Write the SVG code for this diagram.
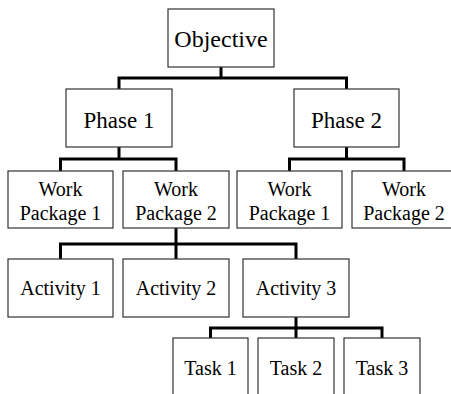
<svg xmlns="http://www.w3.org/2000/svg" width="451" height="394" viewBox="0 0 451 394">
  <rect width="451" height="394" fill="#fff"/>

  <!-- elbow connectors between levels -->
  <g id="connectors" fill="none" stroke="#000" stroke-width="3" stroke-linejoin="miter">
    <path d="M221 67 V78 M119 89 V78 H346.5 V89"/>
    <path d="M119 147 V159 M60.5 171 V159 H176 V171"/>
    <path d="M346.5 147 V159 M289.5 171 V159 H404 V171"/>
    <path d="M176 228 V259 M60.5 259 V244 H296 V259"/>
    <path d="M296 317 V338 M210.5 338 V328 H382 V338"/>
  </g>

  <g id="objective">
    <rect x="168" y="9" width="106" height="58" fill="#fff" stroke="#333" stroke-width="1.2"/>
    <text x="221" y="47" font-size="24" font-family="Times New Roman, Liberation Serif, serif" text-anchor="middle">Objective</text>
  </g>
  <g id="phase1">
    <rect x="66" y="89" width="106" height="58" fill="#fff" stroke="#333" stroke-width="1.2"/>
    <text x="119" y="128" font-size="23" font-family="Times New Roman, Liberation Serif, serif" text-anchor="middle">Phase 1</text>
  </g>
  <g id="phase2">
    <rect x="294" y="89" width="105" height="58" fill="#fff" stroke="#333" stroke-width="1.2"/>
    <text x="346.5" y="128" font-size="23" font-family="Times New Roman, Liberation Serif, serif" text-anchor="middle">Phase 2</text>
  </g>
  <g id="p1-wp1">
    <rect x="8" y="171" width="105" height="57" fill="#fff" stroke="#333" stroke-width="1.2"/>
    <text x="60.5" y="196" font-size="20" font-family="Times New Roman, Liberation Serif, serif" text-anchor="middle">Work</text>
    <text x="60.5" y="220" font-size="20" font-family="Times New Roman, Liberation Serif, serif" text-anchor="middle">Package 1</text>
  </g>
  <g id="p1-wp2">
    <rect x="123" y="171" width="106" height="57" fill="#fff" stroke="#333" stroke-width="1.2"/>
    <text x="176" y="196" font-size="20" font-family="Times New Roman, Liberation Serif, serif" text-anchor="middle">Work</text>
    <text x="176" y="220" font-size="20" font-family="Times New Roman, Liberation Serif, serif" text-anchor="middle">Package 2</text>
  </g>
  <g id="p2-wp1">
    <rect x="237" y="171" width="105" height="57" fill="#fff" stroke="#333" stroke-width="1.2"/>
    <text x="289.5" y="196" font-size="20" font-family="Times New Roman, Liberation Serif, serif" text-anchor="middle">Work</text>
    <text x="289.5" y="220" font-size="20" font-family="Times New Roman, Liberation Serif, serif" text-anchor="middle">Package 1</text>
  </g>
  <g id="p2-wp2">
    <rect x="352" y="171" width="105" height="57" fill="#fff" stroke="#333" stroke-width="1.2"/>
    <text x="404" y="196" font-size="20" font-family="Times New Roman, Liberation Serif, serif" text-anchor="middle">Work</text>
    <text x="404" y="220" font-size="20" font-family="Times New Roman, Liberation Serif, serif" text-anchor="middle">Package 2</text>
  </g>
  <g id="activity1">
    <rect x="8" y="259" width="105" height="58" fill="#fff" stroke="#333" stroke-width="1.2"/>
    <text x="60.5" y="295" font-size="20" font-family="Times New Roman, Liberation Serif, serif" text-anchor="middle">Activity 1</text>
  </g>
  <g id="activity2">
    <rect x="123" y="259" width="106" height="58" fill="#fff" stroke="#333" stroke-width="1.2"/>
    <text x="176" y="295" font-size="20" font-family="Times New Roman, Liberation Serif, serif" text-anchor="middle">Activity 2</text>
  </g>
  <g id="activity3">
    <rect x="243" y="259" width="106" height="58" fill="#fff" stroke="#333" stroke-width="1.2"/>
    <text x="296" y="295" font-size="20" font-family="Times New Roman, Liberation Serif, serif" text-anchor="middle">Activity 3</text>
  </g>
  <g id="task1">
    <rect x="173" y="338" width="75" height="62" fill="#fff" stroke="#333" stroke-width="1.2"/>
    <text x="210.5" y="375" font-size="20" font-family="Times New Roman, Liberation Serif, serif" text-anchor="middle">Task 1</text>
  </g>
  <g id="task2">
    <rect x="258" y="338" width="76" height="62" fill="#fff" stroke="#333" stroke-width="1.2"/>
    <text x="296" y="375" font-size="20" font-family="Times New Roman, Liberation Serif, serif" text-anchor="middle">Task 2</text>
  </g>
  <g id="task3">
    <rect x="344" y="338" width="76" height="62" fill="#fff" stroke="#333" stroke-width="1.2"/>
    <text x="382" y="375" font-size="20" font-family="Times New Roman, Liberation Serif, serif" text-anchor="middle">Task 3</text>
  </g>
</svg>
